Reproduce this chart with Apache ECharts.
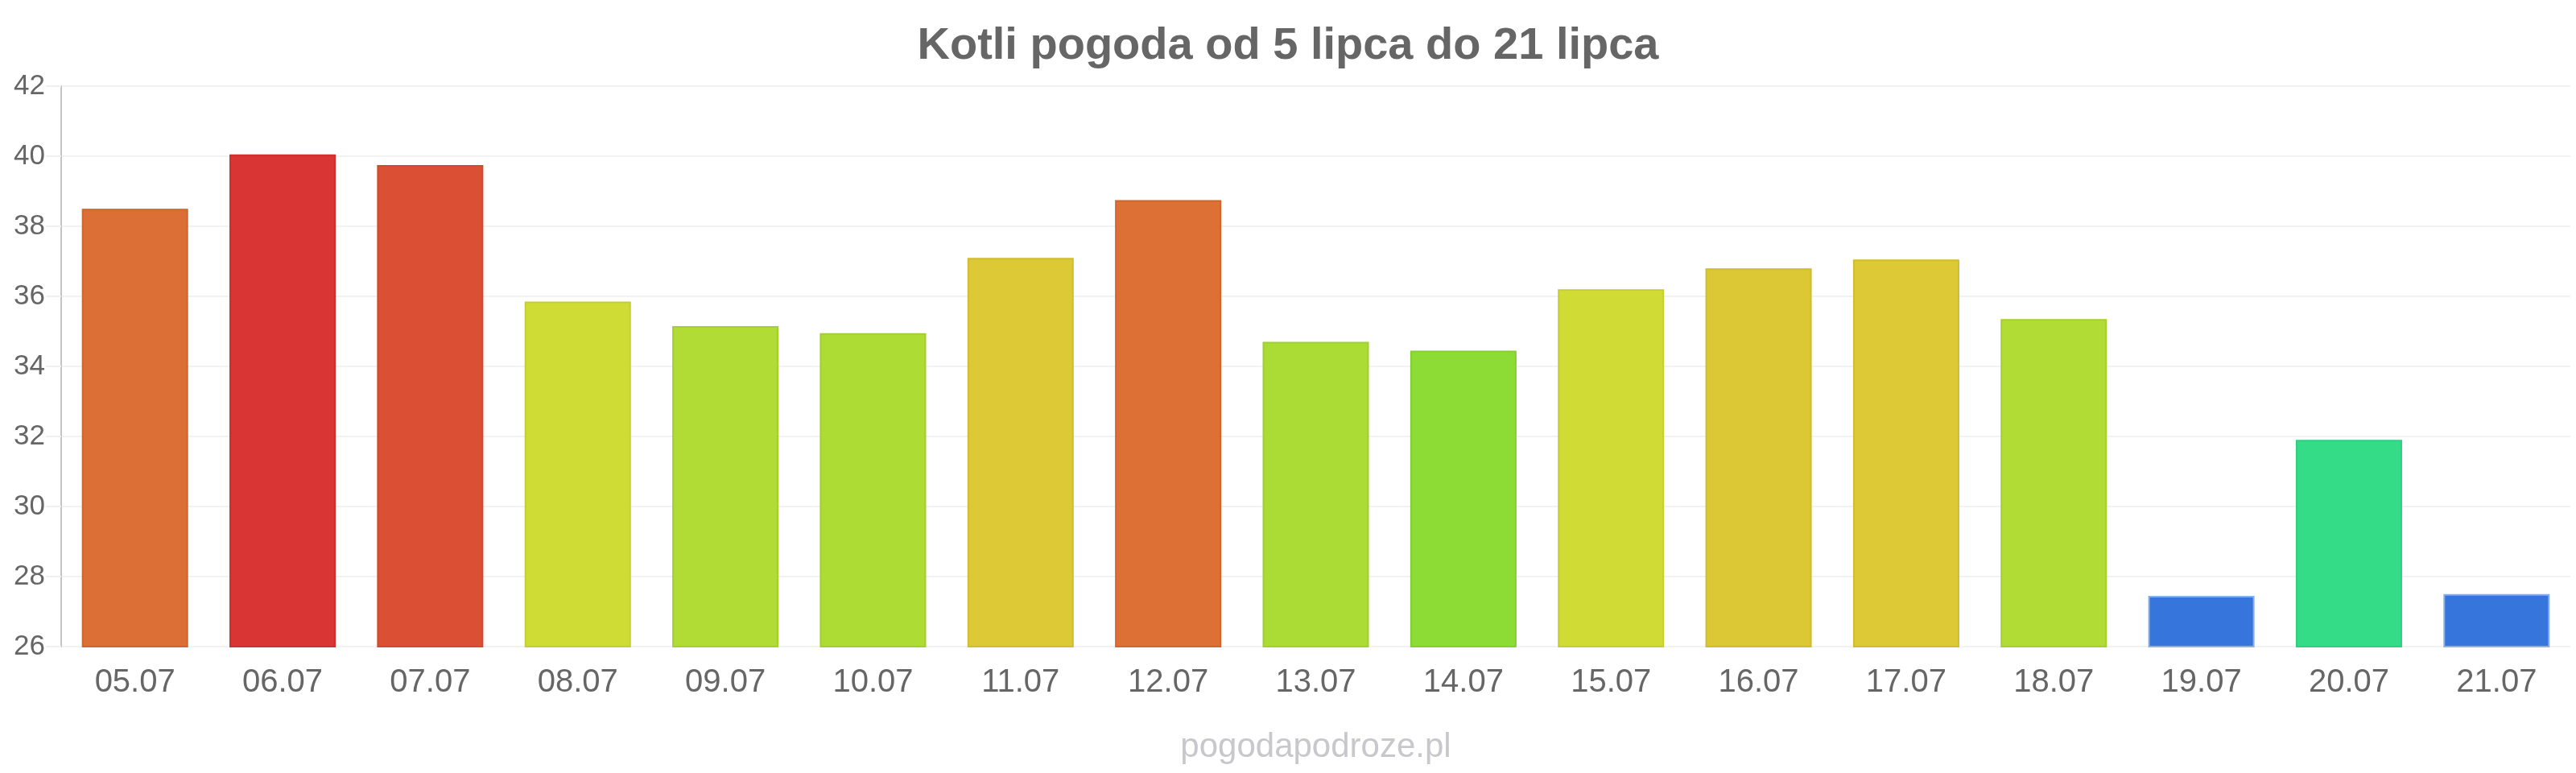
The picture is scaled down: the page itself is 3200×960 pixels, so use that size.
<!DOCTYPE html>
<html>
<head>
<meta charset="utf-8">
<script src="https://cdn.jsdelivr.net/npm/echarts@6/dist/echarts.min.js"></script>
<style>
  html, body { margin: 0; padding: 0; background: #fff; }
  #chart { width: 3200px; height: 960px; }
</style>
</head>
<body>
<div id="chart"></div>
<script>
// dane z wykresu
const days = ['05.07', '06.07', '07.07', '08.07', '09.07', '10.07', '11.07', '12.07', '13.07',
  '14.07', '15.07', '16.07', '17.07', '18.07', '19.07', '20.07', '21.07']
const temps = [38.5, 40.05, 39.75, 35.85, 35.15, 34.95, 37.1, 38.75, 34.7,
  34.45, 36.2, 36.8, 37.05, 35.35, 27.45, 31.9, 27.5]
const barColors = ['#dc6f35', '#da3535', '#db5035', '#cfdc35', '#b0dc35', '#addc35', '#dcc935', '#dc7035', '#abdc35',
  '#8cdc35', '#d0dc35', '#dcc835', '#dcc935', '#b0dc35', '#3575dc', '#35dc88', '#3575dc']
const borderColors = ['#d0652c', '#cf2f2f', '#d0492f', '#c3cf2f', '#a5cf2f', '#a2cf2f', '#cfbd2f', '#d0662c', '#a0cf2f',
  '#82cf2f', '#c4cf2f', '#cfbc2f', '#cfbd2f', '#a5cf2f', '#8aaee6', '#2fcf80', '#8aaee6']
const yTicks = { min: 26, max: 42, step: 2 }

const chart = echarts.init(document.getElementById('chart'))

const option = {
  animation: false,
  backgroundColor: '#fff',
  title: {
    text: 'Kotli pogoda od 5 lipca do 21 lipca',
    left: 'center',
    top: 25,
    textStyle: { fontFamily: 'Liberation Sans', fontSize: 56, fontWeight: 'bold', color: '#666' }
  },
  grid: { left: 76, right: 7, top: 107, bottom: 157, containLabel: false },
  xAxis: {
    type: 'category',
    data: days,
    // podpis strony pod osią, wyśrodkowany względem obszaru wykresu
    name: 'pogodapodroze.pl',
    nameLocation: 'middle',
    nameGap: 104,
    nameTextStyle: { fontFamily: 'Liberation Sans', fontSize: 42, color: '#c8c8cc' },
    axisLine: { show: false },
    axisTick: { show: false },
    axisLabel: { fontFamily: 'Liberation Sans', fontSize: 40, color: '#666', margin: 25 }
  },
  yAxis: {
    type: 'value',
    min: yTicks.min,
    max: yTicks.max,
    interval: yTicks.step,
    axisLine: { show: true, lineStyle: { color: '#c4c4c4', width: 2 } },
    axisTick: { show: true, length: 19, lineStyle: { color: '#f0f0f0', width: 2 } },
    splitLine: { lineStyle: { color: '#f2f2f2', width: 2 } },
    axisLabel: { fontFamily: 'Liberation Sans', fontSize: 35, color: '#666', margin: 20 }
  },
  series: [{
    type: 'bar',
    barCategoryGap: '28%',
    data: temps.map((v, i) => ({
      value: v,
      itemStyle: { color: barColors[i], borderColor: borderColors[i], borderWidth: 2 }
    }))
  }]
}

chart.setOption(option)
</script>
</body>
</html>
